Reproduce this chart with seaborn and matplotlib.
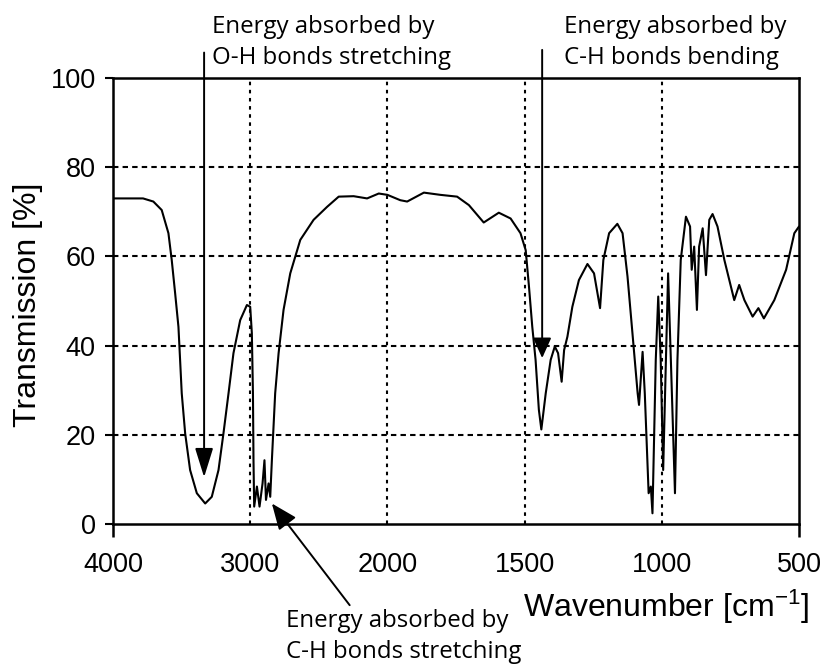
import numpy as np
import pandas as pd
import matplotlib
matplotlib.use("Agg")
import matplotlib.pyplot as plt
import seaborn as sns

# IR spectrum: wavenumber [cm-1] and transmission [%]
wavenumber = [
    4000, 3781, 3706, 3645, 3596, 3572, 3547, 3523, 3511, 3499, 3474, 3438,
    3389, 3328, 3280, 3231, 3195, 3158, 3122, 3073, 3024, 3000, 2988, 2980,
    2976, 2971, 2951, 2932, 2910, 2896, 2885, 2866, 2854, 2842, 2818, 2793,
    2757, 2708, 2635, 2538, 2440, 2355, 2246, 2148, 2063, 2000, 1953, 1928,
    1867, 1807, 1746, 1703, 1649, 1594, 1551, 1515, 1496, 1484, 1472, 1460,
    1448, 1439, 1423, 1405, 1390, 1378, 1365, 1356, 1344, 1326, 1302, 1271,
    1247, 1225, 1213, 1192, 1162, 1143, 1125, 1107, 1088, 1083, 1070, 1062,
    1048, 1040, 1034, 1022, 1013, 1004, 995, 985, 977, 967, 952, 943,
    931, 912, 897, 891, 882, 872, 864, 851, 839, 827, 815, 797,
    772, 736, 718, 699, 669, 648, 628, 590, 547, 517, 500,
]
transmission = [
    73.0, 73.0, 72.3, 70.4, 65.2, 59.2, 51.7, 44.2, 36.8, 29.3, 20.3, 12.1,
    6.9, 4.6, 6.1, 12.1, 20.3, 29.3, 38.3, 45.7, 49.1, 48.7, 42.8, 29.4,
    14.3, 3.9, 8.4, 3.9, 9.1, 14.3, 5.4, 9.1, 6.1, 14.3, 29.3, 38.3,
    48.0, 56.2, 63.7, 68.2, 71.1, 73.4, 73.5, 73.0, 74.1, 73.8, 72.6, 72.3,
    74.3, 73.8, 73.4, 71.5, 67.6, 69.8, 68.5, 65.2, 61.4, 53.2, 44.2, 36.8,
    25.6, 21.2, 29.3, 36.8, 39.8, 38.3, 31.9, 39.0, 42.0, 48.7, 54.7, 58.3,
    56.2, 48.4, 59.2, 65.2, 67.3, 65.2, 55.5, 42.8, 29.3, 26.7, 38.6, 29.3,
    6.9, 8.4, 2.4, 36.8, 51.0, 36.8, 12.1, 36.8, 56.2, 36.8, 6.9, 36.8,
    59.2, 68.9, 66.7, 57.0, 62.2, 48.0, 62.2, 66.3, 55.8, 68.2, 69.5, 66.7,
    59.2, 50.2, 53.6, 50.2, 46.5, 48.4, 46.1, 50.2, 57.0, 65.2, 66.7,
]

x_ticks = [4000, 3000, 2000, 1500, 1000, 500]
y_ticks = [0, 20, 40, 60, 80, 100]

# (text lines, left x px, baseline y px of first line)
notes = [
    (["Energy absorbed by", "O-H bonds stretching"], 212, 33),
    (["Energy absorbed by", "C-H bonds bending"], 564, 33),
    (["Energy absorbed by", "C-H bonds stretching"], 286, 627),
]
# (tail, tip, head length, head half-width) in data coordinates
arrows = [
    ((3336, 105.7), (3336, 10.5), 0.9, 0.28),
    ((1436, 106.3), (1436, 37.2), 0.62, 0.28),
    ((2275, -18.2), (2842, 4.6), 0.8, 0.33),
]

sns.set_theme(style="ticks")
plt.rcParams["font.family"] = ["Liberation Sans", "DejaVu Sans"]
plt.rcParams["mathtext.fontset"] = "custom"
plt.rcParams["mathtext.rm"] = "Liberation Sans"
plt.rcParams["mathtext.default"] = "regular"

W, H = 823, 664
fig = plt.figure(figsize=(W / 100, H / 100), dpi=100)
fig.patch.set_facecolor("white")
ax = fig.add_axes([113 / W, 1 - 524 / H, 686 / W, 446 / H])


# IR convention: doubled scale below 2000 cm-1
def fwd(w):
    w = np.asarray(w, dtype=float)
    return np.where(w >= 2000, 2000 + (w - 2000) / 2, w)


def inv(p):
    p = np.asarray(p, dtype=float)
    return np.where(p >= 2000, 2000 + (p - 2000) * 2, p)


ax.set_xscale("function", functions=(fwd, inv))

df = pd.DataFrame({"Wavenumber": wavenumber, "Transmission": transmission})
sns.lineplot(data=df, x="Wavenumber", y="Transmission", sort=False,
             estimator=None, color="black", linewidth=1.5, ax=ax, zorder=3)

ax.set_xlim(4000, 500)
ax.set_ylim(0, 100)
ax.set_xticks(x_ticks)
ax.set_xticklabels([str(t) for t in x_ticks])
ax.set_yticks(y_ticks)
ax.set_yticklabels([str(t) for t in y_ticks])
ax.set_xlabel("")
ax.set_ylabel("")

ax.xaxis.grid(True, color="black", linestyle=(0, (1.7, 2.2)), linewidth=1.5)
ax.yaxis.grid(True, color="black", linestyle=(0, (2.6, 2.0)), linewidth=1.5)

for s in ax.spines.values():
    s.set_visible(True)
    s.set_color("black")
    s.set_linewidth(1.8)
    s.set_zorder(4)

ax.tick_params(axis="x", direction="out", length=9.5, width=1.8, color="black",
               labelsize=19.5, labelcolor="black", pad=11)
ax.tick_params(axis="y", direction="out", length=5.5, width=1.5, color="black",
               labelsize=19.5, labelcolor="black", pad=7)
xt = ax.xaxis.get_major_ticks()
for t in xt[1:-1]:
    t.tick1line.set_visible(False)
for t in (xt[0], xt[-1]):
    t.gridline.set_visible(False)
yt = ax.yaxis.get_major_ticks()
for t in (yt[0], yt[-1]):
    t.gridline.set_visible(False)

fig.text(28 / W, 1 - 305 / H, "Transmission [%]", rotation=90,
         ha="center", va="center", fontsize=23, color="black")
fig.text(666 / W, 1 - 607 / H, "Wavenumber [cm$^{-1}$]",
         ha="center", va="center", fontsize=23, color="black")

for lines, x0, y0 in notes:
    for i, line in enumerate(lines):
        fig.text(x0 / W, 1 - (y0 + 31 * i) / H, line, ha="left", va="baseline",
                 fontsize=17.3, family=["Open Sans", "DejaVu Sans"],
                 color="black")

for tail, tip, hl, hw in arrows:
    ax.annotate("", xy=tip, xytext=tail, xycoords="data", textcoords="data",
                annotation_clip=False,
                arrowprops=dict(arrowstyle=f"-|>,head_length={hl},head_width={hw}",
                                mutation_scale=20, color="black", lw=1.4,
                                shrinkA=0, shrinkB=0),
                zorder=5)

fig.savefig("out.png", dpi=100, facecolor="white")
